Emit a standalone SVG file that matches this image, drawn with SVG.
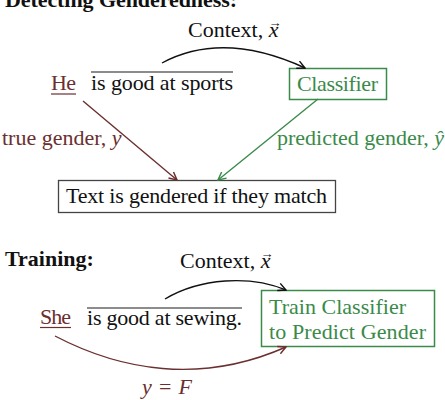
<svg xmlns="http://www.w3.org/2000/svg" width="445" height="400" viewBox="0 0 445 400">
<style>
text{font-family:"Liberation Serif","Times New Roman",serif;font-size:22px;fill:#111}
.b{font-weight:bold}
.m{fill:#6b2f2f}
.g{fill:#3a8a4a}
.i{font-style:italic}
.acc{font-size:13px;font-style:normal}
.box{fill:#fff;stroke:#444;stroke-width:1.3}
.gbox{fill:#fff;stroke:#3a8a4a;stroke-width:1.5}
.over{stroke:#666;stroke-width:1.3}
</style>
<defs>
<marker id="ak" viewBox="0 0 10 10" refX="9" refY="5" markerWidth="7" markerHeight="7" orient="auto"><path d="M1,1 L9,5 L1,9" fill="none" stroke="#111" stroke-width="1.5"/></marker>
<marker id="am" viewBox="0 0 10 10" refX="9" refY="5" markerWidth="7" markerHeight="7" orient="auto"><path d="M1,1 L9,5 L1,9" fill="none" stroke="#6b2f2f" stroke-width="1.5"/></marker>
<marker id="ag" viewBox="0 0 10 10" refX="9" refY="5" markerWidth="7" markerHeight="7" orient="auto"><path d="M1,1 L9,5 L1,9" fill="none" stroke="#3a8a4a" stroke-width="1.5"/></marker>
</defs>
<text class="b" x="5" y="7" textLength="232">Detecting Genderedness:</text>
<g id="he"><text class="m" x="51" y="90" textLength="25">He</text><line x1="51" y1="94" x2="76" y2="94" stroke="#6b2f2f" stroke-width="1.2"/></g>
<g id="ctx1"><line class="over" x1="91" y1="72" x2="233" y2="72"/><text x="91" y="90" textLength="142">is good at sports</text></g>
<g id="classifier"><rect class="gbox" x="289.5" y="68.5" width="97" height="31"/><text class="g" x="297" y="91" textLength="81">Classifier</text></g>
<g id="match"><rect class="box" x="58.5" y="180.5" width="277" height="32"/><text x="66" y="203" textLength="261">Text is gendered if they match</text></g>
<g id="she"><text class="m" x="40" y="324" textLength="31">She</text><line x1="40" y1="327.5" x2="71" y2="327.5" stroke="#6b2f2f" stroke-width="1.2"/></g>
<g id="ctx2"><line class="over" x1="87" y1="308" x2="242" y2="308"/><text x="87" y="325" textLength="155">is good at sewing.</text></g>
<g id="train"><rect class="gbox" x="261.5" y="290.5" width="173" height="56"/><text class="g" x="269" y="314" textLength="137">Train Classifier</text><text class="g" x="269" y="339" textLength="157">to Predict Gender</text></g>
<g id="connectors" fill="none" stroke-width="1.4">
<path d="M162,63 C205,40 255,45 305,68" stroke="#111" marker-end="url(#ak)"/>
<path d="M83,101 L177,180" stroke="#6b2f2f" marker-end="url(#am)"/>
<path d="M318,99 L218,180" stroke="#3a8a4a" marker-end="url(#ag)"/>
<path d="M165,299 C200,278 250,275 286,290" stroke="#111" marker-end="url(#ak)"/>
<path d="M55,336 C120,370 200,385 286,347" stroke="#6b2f2f" marker-end="url(#am)"/>
</g>
<g id="labels">
<text x="188" y="37">Context, <tspan class="i">x</tspan><tspan class="acc" dx="-10" dy="-10">→</tspan></text>
<text class="m" x="2" y="145">true gender, <tspan class="i">y</tspan></text>
<text class="g" x="277" y="145">predicted gender, <tspan class="i">ŷ</tspan></text>
<text class="b" x="5" y="266">Training:</text>
<text x="180" y="268">Context, <tspan class="i">x</tspan><tspan class="acc" dx="-10" dy="-10">→</tspan></text>
<text class="m i" x="142" y="394" textLength="50">y <tspan font-style="normal">=</tspan> F</text>
</g>
</svg>
